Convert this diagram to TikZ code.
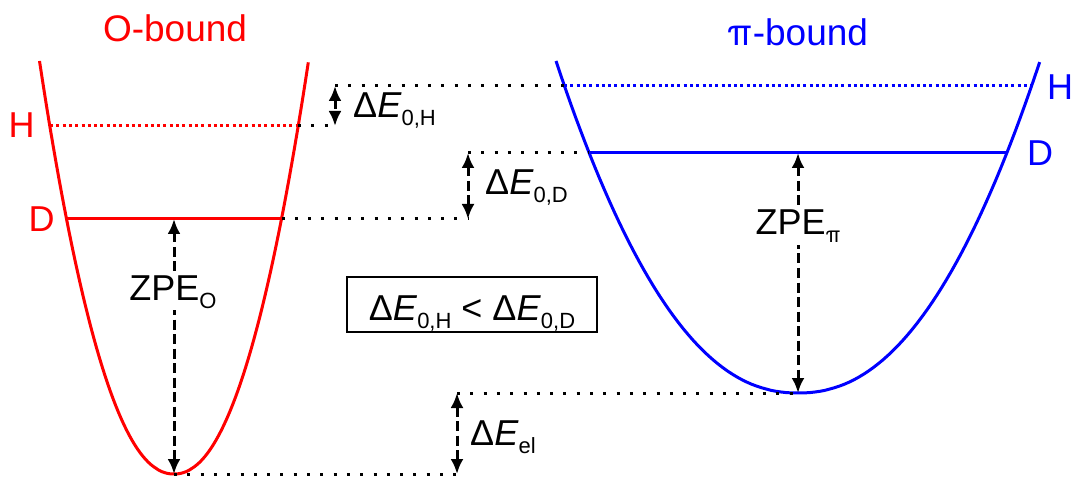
\documentclass[tikz,border=0pt]{standalone}
\usepackage{fontspec}
\setmainfont{Liberation Sans}
\newfontfamily\pifont{TeX Gyre Heros}
\usetikzlibrary{arrows.meta}
\newcommand{\lowsub}[1]{\raisebox{-8pt}{\fontsize{22}{22}\selectfont #1}}
\begin{document}
\begin{tikzpicture}[x=1pt, y=-1pt,
    well/.style={line width=3pt},
    hlevel/.style={line width=3pt, dash pattern=on 3pt off 3.3pt},
    guide/.style={line width=3pt, dash pattern=on 3pt off 10.3pt},
    gap/.style={line width=3pt, dash pattern=on 10pt off 4.5pt,
        {Latex[length=15pt,width=13pt]}-{Latex[length=15pt,width=13pt]}},
    lbl/.style={font=\fontsize{36}{40}\selectfont, inner sep=0pt, anchor=base}]
    \useasboundingbox (0,0) rectangle (1073,478);

    % Potential wells
    \draw[red, well] plot[domain=-1:1, samples=100] ({174+134.5*\x}, {474-413*abs(\x)^2.15});
    \draw[blue, well] plot[domain=-1:1, samples=100] ({798+242*\x}, {393-332*abs(\x)^2.2});

    % Level end points
    \coordinate (OHl) at (50,126);
    \coordinate (OHr) at (298,126);
    \coordinate (ODl) at (66.5,219);
    \coordinate (ODr) at (281.5,219);
    \coordinate (Omin) at (174,474);
    \coordinate (piHl) at (564,86);
    \coordinate (piHr) at (1032,86);
    \coordinate (piDl) at (589,153);
    \coordinate (piDr) at (1007,153);
    \coordinate (pimin) at (798,393);
    \coordinate (gapH1) at (335,86);
    \coordinate (gapH0) at (335,126);
    \coordinate (gapD1) at (468,153);
    \coordinate (gapD0) at (468,219);
    \coordinate (gapel1) at (457,393);
    \coordinate (gapel0) at (457,474);

    % Zero-point levels
    \draw[red, hlevel] (OHl) -- (OHr);
    \draw[red, well] (ODl) -- (ODr);
    \draw[blue, hlevel] (piHl) -- (piHr);
    \draw[blue, well] (piDl) -- (piDr);

    % Guide lines
    \draw[guide] (OHr) -- (gapH0);
    \draw[guide] (gapH1) -- (piHl);
    \draw[guide] (ODr) -- (gapD0);
    \draw[guide] (gapD1) -- (piDl);
    \draw[guide] (Omin) -- (gapel0);
    \draw[guide] (gapel1) -- (pimin);

    % Energy gaps
    \draw[gap] (gapH1) -- (gapH0);
    \draw[gap] (gapD1) -- (gapD0);
    \draw[gap] (gapel1) -- (gapel0);
    \draw[gap] (ODl -| Omin) -- (Omin);
    \draw[gap] (piDl -| pimin) -- (pimin);

    % Labels
    \node[lbl, red] (Otitle) at (175,42) {\fontsize{37}{40}\selectfont O-bound};
    \node[lbl, blue] (pititle) at (798,46) {\fontsize{37}{40}\selectfont {\pifont π}-bound};
    \node[lbl, red] (OHlab) at (21.5,138) {H};
    \node[lbl, red] (ODlab) at (41.5,232) {D};
    \node[lbl, blue] (piHlab) at (1060,100) {H};
    \node[lbl, blue] (piDlab) at (1040,166) {D};
    \node[lbl, fill=white, inner sep=2pt] (zpeO) at (173,300) {ZPE\lowsub{O}};
    \node[lbl, fill=white, inner sep=2pt] (zpepi) at (798,235) {ZPE\lowsub{\pifont π}};
    \node[lbl, anchor=base west] (dEH) at (353,118) {Δ\textit{E}\lowsub{0,H}};
    \node[lbl, anchor=base west] (dED) at (485,195) {Δ\textit{E}\lowsub{0,D}};
    \node[lbl, anchor=base west] (dEel) at (470,445) {Δ\textit{E}\lowsub{el}};
    \node[lbl, draw, line width=2pt, text height=43pt, text depth=12pt,
        minimum width=250pt] (compare) at (472,320)
        {Δ\textit{E}\lowsub{0,H} < Δ\textit{E}\lowsub{0,D}};
\end{tikzpicture}
\end{document}
